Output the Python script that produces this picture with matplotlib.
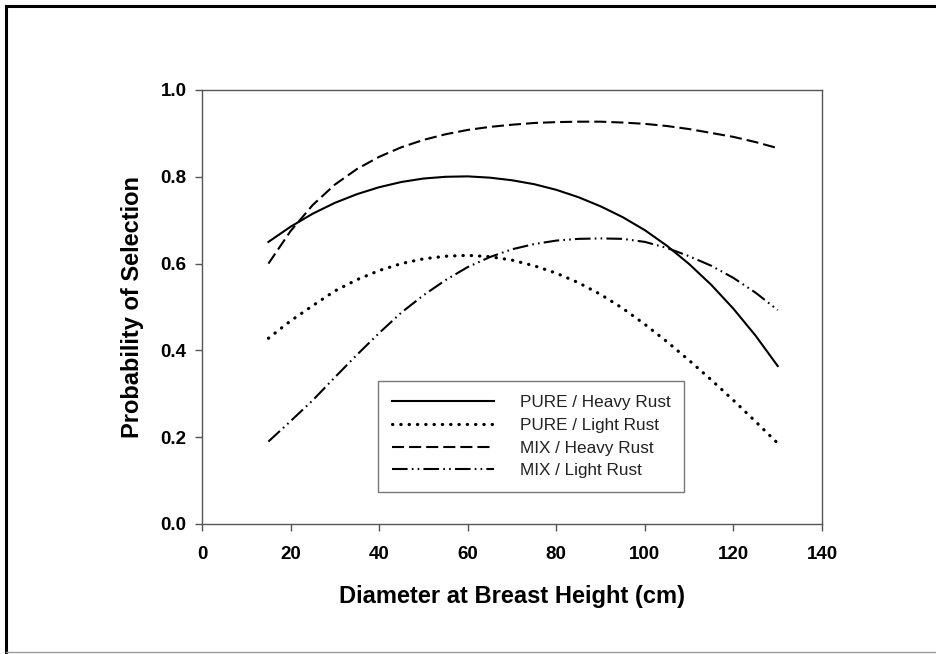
import matplotlib.pyplot as plt
from matplotlib.lines import Line2D

# diametro (cm)
dbh = [15, 20, 25, 30, 35, 40, 45, 50, 55, 60, 65, 70, 75, 80,
       85, 90, 95, 100, 105, 110, 115, 120, 125, 130]

pure_heavy = [0.650, 0.685, 0.715, 0.740, 0.760, 0.776, 0.788, 0.796, 0.800, 0.801,
              0.798, 0.792, 0.783, 0.770, 0.753, 0.732, 0.707, 0.677, 0.641, 0.599,
              0.551, 0.496, 0.434, 0.364]
pure_light = [0.428, 0.468, 0.503, 0.537, 0.563, 0.584, 0.600, 0.611, 0.617, 0.619,
              0.616, 0.608, 0.595, 0.578, 0.556, 0.529, 0.497, 0.460, 0.420, 0.377,
              0.332, 0.285, 0.236, 0.186]
mix_heavy = [0.600, 0.675, 0.735, 0.782, 0.818, 0.846, 0.868, 0.885, 0.898, 0.908,
             0.915, 0.920, 0.924, 0.926, 0.927, 0.927, 0.925, 0.922, 0.917, 0.910,
             0.901, 0.892, 0.880, 0.866]
mix_light = [0.190, 0.237, 0.285, 0.338, 0.390, 0.440, 0.487, 0.527, 0.562, 0.592,
             0.615, 0.633, 0.645, 0.653, 0.657, 0.658, 0.657, 0.650, 0.636, 0.617,
             0.595, 0.567, 0.533, 0.493]

labels = ['PURE / Heavy Rust', 'PURE / Light Rust', 'MIX / Heavy Rust', 'MIX / Light Rust']

plt.rcParams['font.family'] = ['Liberation Sans', 'DejaVu Sans']

fig = plt.figure(figsize=(9.36, 6.54), dpi=100)
ax = fig.add_axes([202/936, 1-524/654, 620/936, 434/654])

ax.plot(dbh, pure_heavy, color='black', lw=1.5, ls='-', label=labels[0])
ax.plot(dbh, pure_light, color='black', lw=2.3, ls=(0, (0.1, 2.5)),
        dash_capstyle='round', label=labels[1])
ax.plot(dbh, mix_heavy, color='black', lw=1.5, ls=(0, (5.8, 2.4)), label=labels[2])
ax.plot(dbh, mix_light, color='black', lw=1.5,
        ls=(0, (7.5, 2.0, 0.8, 2.0, 0.8, 2.0)), label=labels[3])

ax.set_xlim(0, 140)
ax.set_ylim(0, 1.0)
ax.set_xticks(range(0, 141, 20))
ax.set_yticks([0.0, 0.2, 0.4, 0.6, 0.8, 1.0])
ax.set_yticklabels(['0.0', '0.2', '0.4', '0.6', '0.8', '1.0'])

for s in ax.spines.values():
    s.set_color('#555555')
    s.set_linewidth(1.0)
ax.tick_params(direction='out', length=5, width=1.0, color='#555555',
               labelsize=13.5, pad=6)
ax.tick_params(axis='x', pad=11)
for t in ax.get_xticklabels() + ax.get_yticklabels():
    t.set_fontweight('bold')

ax.set_xlabel('Diameter at Breast Height (cm)', fontsize=17, fontweight='bold', labelpad=16)
ax.set_ylabel('Probability of Selection', fontsize=17, fontweight='bold', labelpad=12)

leg = ax.legend(loc='lower left', bbox_to_anchor=(0.284, 0.074), borderaxespad=0,
                fontsize=12.3, handlelength=6, handletextpad=1.5, labelspacing=0.45,
                borderpad=0.8, fancybox=False, framealpha=1)
leg.get_frame().set_edgecolor('#777777')
leg.get_frame().set_linewidth(1.0)
for t in leg.get_texts():
    t.set_color('#222222')

# moldura da figura
fig.add_artist(Line2D([6/936, 6/936], [0, 1-6/654], color='black', lw=2.2))
fig.add_artist(Line2D([6/936, 1], [1-6/654, 1-6/654], color='black', lw=2.2))
fig.add_artist(Line2D([6/936, 1], [2/654, 2/654], color='#999999', lw=1.0))

fig.savefig('out.png', dpi=100)
